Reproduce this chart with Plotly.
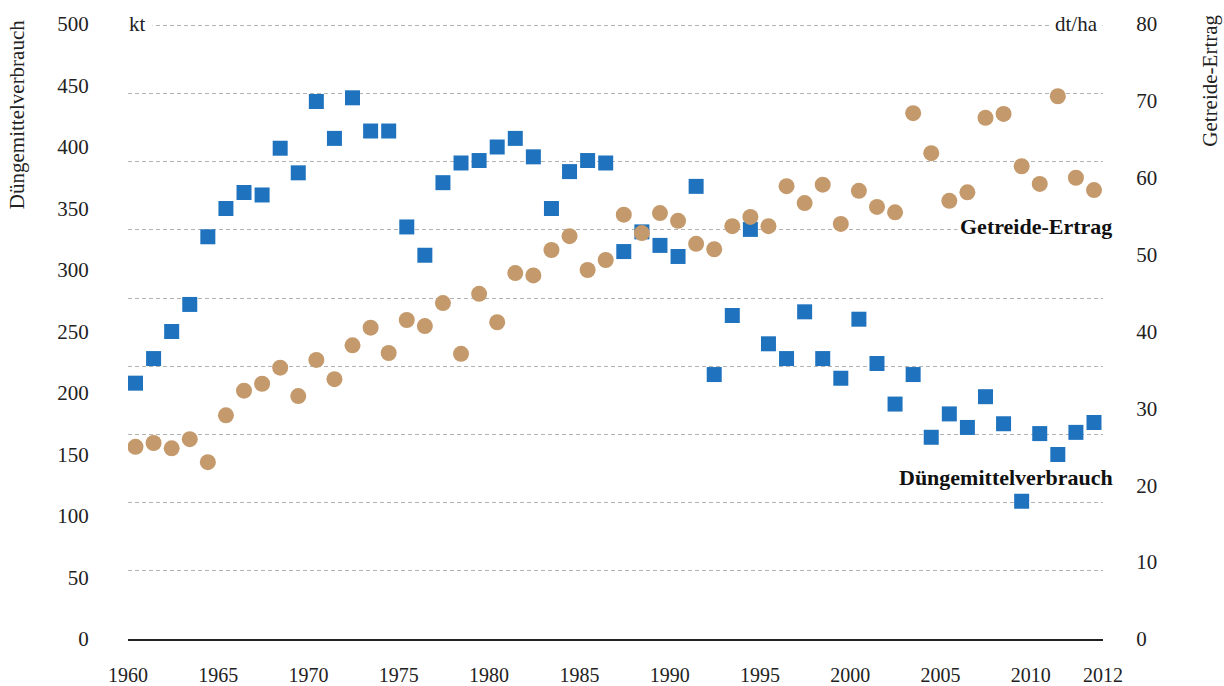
import plotly.graph_objects as go

years = list(range(1960, 2014))

duenger_kt = [208, 228, 250, 272, 327, 350, 363, 361, 399, 379,
              437, 407, 440, 413, 413, 335, 312, 371, 387, 389,
              400, 407, 392, 350, 380, 389, 387, 315, 331, 320,
              311, 368, 215, 263, 333, 240, 228, 266, 228, 212,
              260, 224, 191, 215, 164, 183, 172, 197, 175, 112,
              167, 150, 168, 176]

getreide_dtha = [25.0, 25.5, 24.8, 26.0, 23.0, 29.1, 32.3, 33.2, 35.3, 31.6,
                 36.3, 33.8, 38.2, 40.5, 37.2, 41.5, 40.7, 43.7, 37.1, 44.9,
                 41.2, 47.6, 47.3, 50.6, 52.4, 48.0, 49.3, 55.2, 52.8, 55.4,
                 54.4, 51.4, 50.7, 53.7, 54.9, 53.7, 58.9, 56.7, 59.1, 54.0,
                 58.3, 56.2, 55.5, 68.4, 63.2, 57.0, 58.1, 67.8, 68.3, 61.5,
                 59.2, 70.6, 60.0, 58.4]

# tick label axis: labels every 5 years, the last label sits at the axis end
x_tickvals = [1960, 1965, 1970, 1975, 1980, 1985, 1990, 1995, 2000, 2005, 2010, 2014]
x_ticktext = ["1960", "1965", "1970", "1975", "1980", "1985", "1990", "1995",
              "2000", "2005", "2010", "2012"]

BLUE = "#1f73be"
TAN = "#c4996b"
FONT = "Liberation Serif"
TXT = "#222222"

fig = go.Figure()
# helper trace on the main subplot (label axis + grid axis)
fig.add_trace(go.Scatter(x=[None], y=[None], xaxis="x", yaxis="y",
                         mode="markers", showlegend=False, hoverinfo="skip"))
fig.add_trace(go.Scatter(
    x=years, y=duenger_kt, mode="markers", name="Düngemittelverbrauch",
    xaxis="x2", yaxis="y2",
    marker=dict(symbol="square", size=15, color=BLUE, line=dict(width=0)),
))
fig.add_trace(go.Scatter(
    x=years, y=getreide_dtha, mode="markers", name="Getreide-Ertrag",
    xaxis="x2", yaxis="y3",
    marker=dict(symbol="circle", size=16, color=TAN, line=dict(width=0)),
))

tickfont = dict(family=FONT, size=21, color=TXT)

fig.update_layout(
    width=1224, height=686,
    margin=dict(l=128, r=121, t=24, b=47, autoexpand=False),
    paper_bgcolor="white", plot_bgcolor="white",
    showlegend=False,
    font=dict(family=FONT, size=21, color=TXT),
    xaxis=dict(
        range=[1960, 2014], tickvals=x_tickvals, ticktext=x_ticktext, tickangle=0,
        showgrid=False, zeroline=False, showline=True, linecolor="#222", linewidth=1.6,
        ticks="outside", ticklen=17, tickcolor="rgba(0,0,0,0)",
        tickfont=dict(family=FONT, size=20, color=TXT),
        automargin=False,
    ),
    xaxis2=dict(
        overlaying="x", range=[1959.585, 2013.498], visible=False,
    ),
    # grid axis (9 equal bands)
    yaxis=dict(
        range=[0, 9.02], dtick=1, showgrid=True,
        gridcolor="#b3b3b3", gridwidth=1.3, griddash="4px,3px",
        showticklabels=False, ticks="", zeroline=False, showline=False,
        automargin=False,
    ),
    yaxis2=dict(
        overlaying="y", side="left", range=[0, 500], dtick=50,
        showgrid=False, zeroline=False, showline=False,
        ticks="outside", ticklen=34, tickcolor="rgba(0,0,0,0)", tickfont=tickfont,
        automargin=False,
    ),
    yaxis3=dict(
        overlaying="y", side="right", range=[0, 80], dtick=10,
        showgrid=False, zeroline=False, showline=False,
        ticks="outside", ticklen=28, tickcolor="rgba(0,0,0,0)", tickfont=tickfont,
        automargin=False,
    ),
    annotations=[
        dict(text="kt", xref="paper", yref="paper", x=-0.006, y=1.0,
             xanchor="left", yanchor="middle", showarrow=False,
             bgcolor="white", borderpad=6, font=dict(family=FONT, size=21, color=TXT)),
        dict(text="dt/ha", xref="paper", yref="paper", x=1.0, y=1.0,
             xanchor="right", yanchor="middle", showarrow=False,
             bgcolor="white", borderpad=4, font=dict(family=FONT, size=21, color=TXT)),
        dict(text="Düngemittelverbrauch", xref="paper", yref="paper", x=-0.113, y=1.01,
             xanchor="center", yanchor="top", textangle=-90, showarrow=False,
             font=dict(family=FONT, size=21, color=TXT)),
        dict(text="Getreide-Ertrag", xref="paper", yref="paper", x=1.1095, y=1.018,
             xanchor="center", yanchor="top", textangle=-90, showarrow=False,
             font=dict(family=FONT, size=21, color=TXT)),
        dict(text="<b>Getreide-Ertrag</b>", xref="paper", yref="paper", x=1.012, y=0.6715,
             xanchor="right", yanchor="middle", showarrow=False,
             bgcolor="white", borderpad=2, font=dict(family=FONT, size=22, color="#111")),
        dict(text="<b>Düngemittelverbrauch</b>", xref="paper", yref="paper", x=1.012, y=0.2618,
             xanchor="right", yanchor="middle", showarrow=False,
             font=dict(family=FONT, size=22, color="#111")),
    ],
)

fig.write_html("out.html", config={"displayModeBar": False},
               post_script="document.body.style.margin='0px';")
